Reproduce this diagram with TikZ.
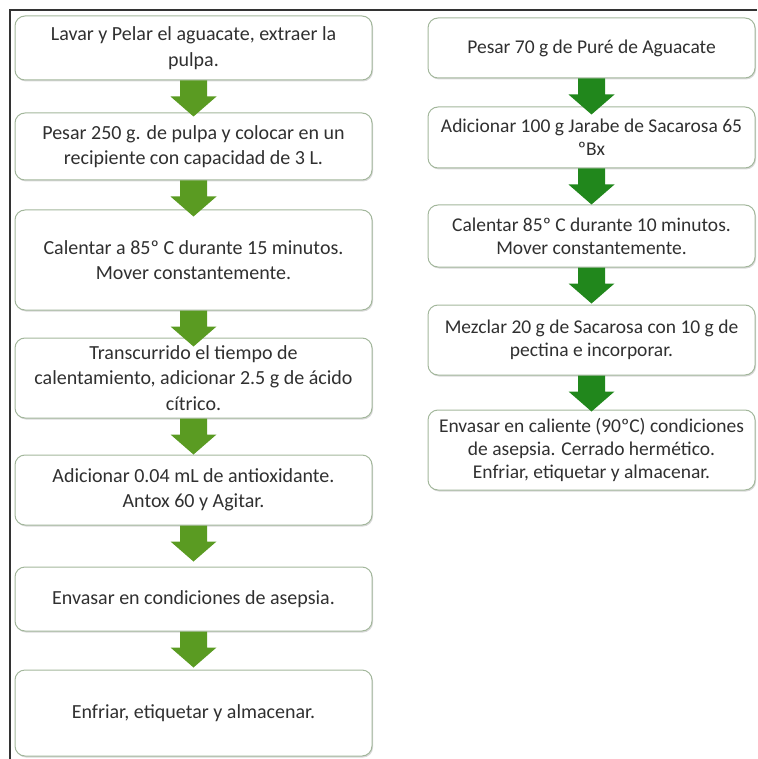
\documentclass[tikz,border=0pt]{standalone}
\usepackage{fontspec}
\setmainfont{Carlito}
\usetikzlibrary{calc,shadows}

\definecolor{stepline}{HTML}{A3B79C}
\definecolor{leftgreen}{HTML}{5A9B22}
\definecolor{rightgreen}{HTML}{21871C}
\definecolor{steptext}{HTML}{303030}
\definecolor{framegray}{HTML}{333333}

\tikzset{
  stepbox/.style={draw=stepline, line width=1pt, rounded corners=10pt, fill=white,
    align=center, inner sep=0pt, text=steptext,
    drop shadow={shadow xshift=1pt, shadow yshift=-1.5pt, opacity=0.3}},
  leftbox/.style={stepbox, minimum width=357pt, font=\fontsize{20}{25.5}\selectfont},
  rightbox/.style={stepbox, minimum width=327pt, font=\fontsize{19.5}{23}\selectfont},
}

% block arrow pointing down from one step to the next
\newcommand\flowarrow[3]{%
  \fill[#3] let \p1=(#1.south), \p2=($(#1.south)!36pt!(#2.north)$) in
    (\x1-13.5pt,\y1) -- (\x1+13.5pt,\y1) -- (\x1+13.5pt,\y2+20pt) --
    (\x1+23pt,\y2+20pt) -- (\x1,\y2) -- (\x1-23pt,\y2+20pt) --
    (\x1-13.5pt,\y2+20pt) -- cycle;}

\begin{document}
\begin{tikzpicture}[x=1pt,y=-1pt]
\useasboundingbox (0,0) rectangle (757,759);

% frame lines
\draw[framegray, line width=2pt] (9.5,759) -- (9.5,10) -- (757,10);

% left column: avocado pulp
\node[leftbox, minimum height=64pt] (L1) at (193.5,48)
  {Lavar y Pelar el aguacate, extraer la\\pulpa.};
\node[leftbox, minimum height=67pt] (L2) at (193.5,146.5)
  {Pesar 250 g. de pulpa y colocar en un\\recipiente con capacidad de 3 L.};
\node[leftbox, minimum height=100pt] (L3) at (193.5,260)
  {Calentar a 85º C durante 15 minutos.\\Mover constantemente.};
\node[leftbox, minimum height=80pt] (L4) at (193.5,378)
  {Transcurrido el tiempo de\\calentamiento, adicionar 2.5 g de ácido\\cítrico.};
\node[leftbox, minimum height=70pt] (L5) at (193.5,490)
  {Adicionar 0.04 mL de antioxidante.\\Antox 60 y Agitar.};
\node[leftbox, minimum height=64pt] (L6) at (193.5,599)
  {Envasar en condiciones de asepsia.};
\node[leftbox, minimum height=86pt] (L7) at (193.5,713)
  {Enfriar, etiquetar y almacenar.};

% right column: avocado jam
\node[rightbox, minimum height=60pt] (R1) at (591.5,48)
  {Pesar 70 g de Puré de Aguacate};
\node[rightbox, minimum height=61pt] (R2) at (591.5,137.5)
  {Adicionar 100 g Jarabe de Sacarosa 65\\ºBx};
\node[rightbox, minimum height=62pt] (R3) at (591.5,236)
  {Calentar 85º C durante 10 minutos.\\Mover constantemente.};
\node[rightbox, minimum height=70pt] (R4) at (591.5,340)
  {Mezclar 20 g de Sacarosa con 10 g de\\pectina e incorporar.};
\node[rightbox, minimum height=80pt] (R5) at (591.5,450)
  {Envasar en caliente (90ºC) condiciones\\de asepsia. Cerrado hermético.\\Enfriar, etiquetar y almacenar.};

% connectors
\flowarrow{L1}{L2}{leftgreen}
\flowarrow{L2}{L3}{leftgreen}
\flowarrow{L3}{L4}{leftgreen}
\flowarrow{L4}{L5}{leftgreen}
\flowarrow{L5}{L6}{leftgreen}
\flowarrow{L6}{L7}{leftgreen}
\flowarrow{R1}{R2}{rightgreen}
\flowarrow{R2}{R3}{rightgreen}
\flowarrow{R3}{R4}{rightgreen}
\flowarrow{R4}{R5}{rightgreen}
\end{tikzpicture}
\end{document}
